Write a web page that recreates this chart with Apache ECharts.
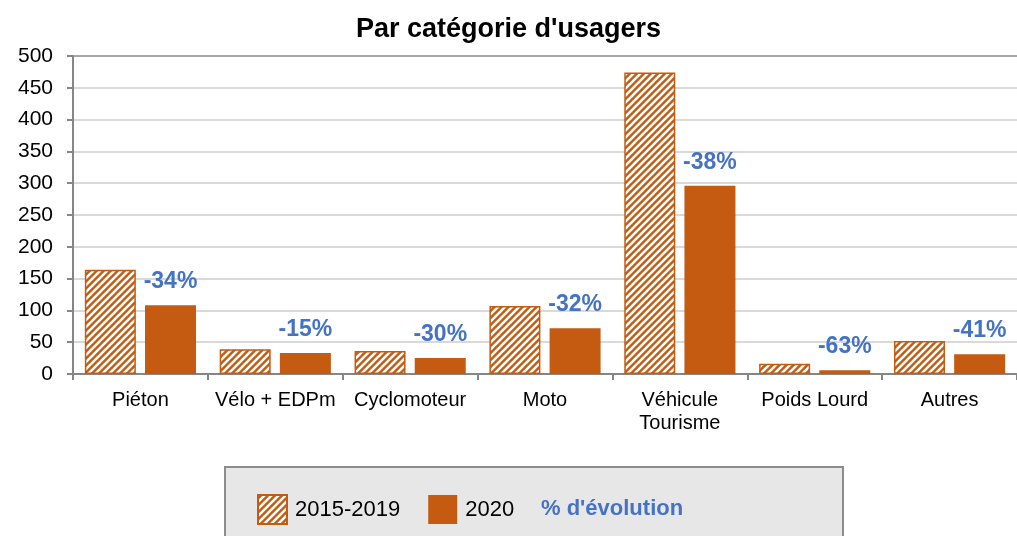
<!DOCTYPE html>
<html>
<head>
<meta charset="utf-8">
<script src="https://cdn.jsdelivr.net/npm/echarts@6/dist/echarts.min.js"></script>
<style>
  html, body { margin: 0; padding: 0; background: #fff; }
  #chart { width: 1017px; height: 536px; }
</style>
</head>
<body>
<div id="chart"></div>
<script>
(function () {
  "use strict";

  var categories = ["Piéton", "Vélo + EDPm", "Cyclomoteur", "Moto", "Véhicule\nTourisme", "Poids Lourd", "Autres"];
  var avg20152019 = [164, 39, 36, 107, 474, 16, 52];
  var values2020 = [108, 33, 25, 72, 296, 6, 31];
  var evolution = ["-34%", "-15%", "-30%", "-32%", "-38%", "-63%", "-41%"];
  var yTicks = [0, 500, 50]; // min, max, interval

  var ORANGE = "#c55a11";
  var BLUE = "#4472c4";
  var AXIS = "#868686";
  var GRID = "#d9d9d9";

  // diagonal hatch tile for the 2015-2019 bars
  function hatch() {
    var s = 7;
    var c = document.createElement("canvas");
    c.width = s; c.height = s;
    var ctx = c.getContext("2d");
    ctx.fillStyle = ORANGE;
    ctx.fillRect(0, 0, s, s);
    ctx.strokeStyle = "#ffffff";
    ctx.lineWidth = 2.6;
    ctx.beginPath();
    ctx.moveTo(-s, s); ctx.lineTo(s, -s);
    ctx.moveTo(0, s); ctx.lineTo(s, 0);
    ctx.moveTo(0, 2 * s); ctx.lineTo(2 * s, 0);
    ctx.stroke();
    return c;
  }

  var splitColors = [];
  for (var i = 0; i < 10; i++) splitColors.push(GRID);
  splitColors.push("#a6a6a6");

  var chart = echarts.init(document.getElementById("chart"));
  chart.setOption({
    animation: false,
    backgroundColor: "#ffffff",
    textStyle: { fontFamily: "Liberation Sans, Arial, sans-serif", color: "#000" },
    title: {
      text: "Par catégorie d'usagers",
      left: "center",
      top: 11,
      textStyle: { fontSize: 27, fontWeight: "bold", color: "#000", fontFamily: "Liberation Sans, Arial, sans-serif" }
    },
    grid: { left: 73, top: 56, width: 949, height: 318 },
    xAxis: {
      type: "category",
      data: categories,
      axisLine: { lineStyle: { color: AXIS, width: 2 } },
      axisTick: { show: true, length: 6, lineStyle: { color: AXIS, width: 2 } },
      axisLabel: { color: "#000", fontSize: 20, margin: 15, lineHeight: 23, interval: 0 }
    },
    yAxis: {
      type: "value",
      min: yTicks[0],
      max: yTicks[1],
      interval: yTicks[2],
      axisLine: { show: true, lineStyle: { color: AXIS, width: 2 } },
      axisTick: { show: true, length: 6, lineStyle: { color: AXIS, width: 2 } },
      axisLabel: { color: "#000", fontSize: 21, margin: 20 },
      splitLine: { lineStyle: { color: splitColors, width: 2 } }
    },
    legend: {
      left: 252,
      top: 489,
      icon: "rect",
      itemWidth: 29,
      itemHeight: 29,
      itemGap: 28,
      data: ["2015-2019", "2020"],
      textStyle: { fontSize: 22, color: "#000", fontFamily: "Liberation Sans, sans-serif", padding: [0, 0, 0, 3] }
    },
    graphic: [
      {
        type: "rect",
        z: -1,
        shape: { x: 225, y: 467, width: 618, height: 90 },
        style: { fill: "#e7e7e7", stroke: "#8c8c8c", lineWidth: 2 }
      },
      {
        type: "text",
        left: 541,
        top: 498,
        style: {
          text: "% d'évolution",
          fill: BLUE,
          font: "bold 22px 'Liberation Sans', sans-serif"
        }
      }
    ],
    series: [
      {
        name: "2015-2019",
        type: "bar",
        data: avg20152019,
        barWidth: 51,
        barGap: "18%",
        itemStyle: {
          color: { image: hatch(), repeat: "repeat" },
          borderColor: ORANGE,
          borderWidth: 1.5
        }
      },
      {
        name: "2020",
        type: "bar",
        data: values2020,
        barWidth: 51,
        itemStyle: { color: ORANGE },
        label: {
          show: true,
          position: "top",
          distance: 12,
          color: BLUE,
          fontSize: 23,
          fontWeight: "bold",
          formatter: function (p) { return evolution[p.dataIndex]; }
        }
      }
    ]
  });
})();
</script>
</body>
</html>
